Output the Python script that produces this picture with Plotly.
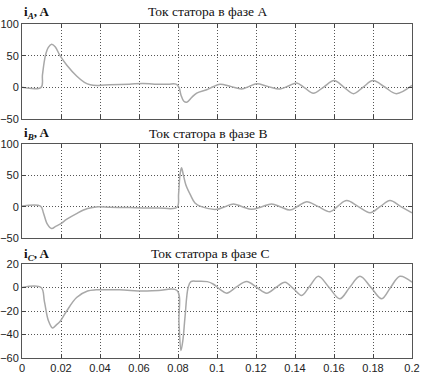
import plotly.graph_objects as go

# Phase A stator current (t, A)
t_a = [0, 0.0098, 0.0105, 0.012, 0.0135, 0.0152, 0.017, 0.0195, 0.023, 0.028, 0.032, 0.035, 0.039,
       0.045, 0.055, 0.062, 0.068, 0.075, 0.079, 0.0805, 0.0815, 0.083, 0.0845, 0.087, 0.0896, 0.0947,
       0.098, 0.1015, 0.107, 0.1127, 0.1165, 0.1203, 0.126, 0.1323, 0.1366, 0.1409, 0.145, 0.1494,
       0.1547, 0.16, 0.165, 0.170, 0.175, 0.180, 0.186, 0.192, 0.2]
i_a = [0, 0, 20, 50, 63, 68, 64, 50, 35, 18, 8, 4, 3,
       4, 5, 6, 5, 5, 5, 0, -12, -22, -23.5, -16, -9, -3.7,
       1, 5, 1.5, -2.5, 1.5, 5.5, 1.5, -2.5, 2, 7, -1, -9.3,
       0.5, 10.7, 0.5, -10, 0.5, 10.7, 0.5, -10, 3]

# Phase B stator current
t_b = [0, 0.0095, 0.011, 0.013, 0.0152, 0.0175, 0.0195, 0.023, 0.028, 0.0336, 0.039, 0.045, 0.055,
       0.062, 0.07, 0.0795, 0.0803, 0.081, 0.0818, 0.0828, 0.084, 0.0865, 0.0887, 0.092, 0.0998,
       0.104, 0.1084, 0.113, 0.1178, 0.123, 0.128, 0.1327, 0.1374, 0.1417, 0.146, 0.152, 0.158,
       0.162, 0.1665, 0.1725, 0.1785, 0.1836, 0.1887, 0.1943, 0.2]
i_b = [1, 1, -10, -28, -35, -31, -28, -20, -11, -3, 0, -1, -1.5,
       -2, -2, -1, 20, 50, 62, 50, 35, 18, 6, 0, -4.3,
       0, 4.3, 0, -4.3, 0, 4.3, -0.5, -5.4, 1, 8, 0, -8,
       1, 9.7, 0, -9.7, 0, 9.7, 0, -9.7]

# Phase C stator current
t_c = [0, 0.0098, 0.0115, 0.0135, 0.0157, 0.0175, 0.0195, 0.0229, 0.028, 0.0336, 0.038, 0.05, 0.062,
       0.07, 0.0795, 0.0805, 0.0815, 0.0825, 0.0836, 0.0852, 0.0866, 0.09, 0.095, 0.098, 0.1015,
       0.105, 0.11, 0.1152, 0.1205, 0.1255, 0.1302, 0.1349, 0.1392, 0.1434, 0.1477, 0.152, 0.1575,
       0.163, 0.168, 0.1733, 0.179, 0.1845, 0.189, 0.1938, 0.2]
i_c = [0, 0, -12, -28, -34.5, -32, -29, -20, -8.5, -3, -2, -2, -3,
       -2.5, -2.5, -30, -53.6, -45, -25, 0, 5, 5.3, 5, 3, -1.5,
       -4.8, 0.5, 5.1, 0, -4.8, 0, 4.5, -1, -6.8, 1.5, 9.6, 0,
       -9.6, 0, 9.6, 0, -9.6, 0, 9.6, 4.5]

titles = ["Ток статора в фазе A", "Ток статора в фазе B", "Ток статора в фазе C"]
ylabels = ["<b>i<sub><i>A</i></sub>, A</b>", "<b>i<sub><i>B</i></sub>, A</b>", "<b>i<sub><i>C</i></sub>, A</b>"]
x_ticks = [0, 0.02, 0.04, 0.06, 0.08, 0.1, 0.12, 0.14, 0.16, 0.18, 0.2]
x_tick_text = ["0", "0.02", "0.04", "0.06", "0.08", "0.1", "0.12", "0.14", "0.16", "0.18", "0.2"]
y_ticks_ab = [-50, 0, 50, 100]
y_ticks_c = [-60, -40, -20, 0, 20]

W, H = 424, 378
L, R = 22, 12
tops = [24, 144, 264]
bots = [119, 238, 358]
yranges = [[-50, 100], [-50, 100], [-60, 20]]
yticks = [y_ticks_ab, y_ticks_ab, y_ticks_c]
title_y = [11.5, 133, 253]
title_x = [207, 208, 210]
label_x = [22, 22, 22]

fig = go.Figure()
series = [(t_a, i_a), (t_b, i_b), (t_c, i_c)]
layout = dict(width=W, height=H, margin=dict(l=L, r=R, t=0, b=0, autoexpand=False),
              paper_bgcolor="white", plot_bgcolor="white", showlegend=False,
              font=dict(family="Liberation Sans", size=11, color="#222"))
annotations = []
grid = dict(showgrid=True, gridcolor="#555", griddash="1px,2px", gridwidth=1)
for k in range(3):
    xa = "x" if k == 0 else f"x{k+1}"
    ya = "y" if k == 0 else f"y{k+1}"
    fig.add_trace(go.Scatter(x=series[k][0], y=series[k][1], mode="lines",
                             line=dict(color="#a8a8a8", width=1.5, shape="spline", smoothing=1.0),
                             xaxis=xa, yaxis=ya, hoverinfo="skip"))
    xkey = "xaxis" if k == 0 else f"xaxis{k+1}"
    ykey = "yaxis" if k == 0 else f"yaxis{k+1}"
    layout[xkey] = dict(domain=[0, 1], range=[0, 0.2], anchor=ya, automargin=False,
                        tickvals=x_ticks, ticktext=x_tick_text, showticklabels=(k == 2),
                        ticks="inside", ticklen=4, tickcolor="#444", mirror="ticks",
                        showline=True, linecolor="#555", linewidth=1,
                        zeroline=False, tickfont=dict(size=11, color="#222"), **grid)
    layout[ykey] = dict(domain=[1 - bots[k] / H, 1 - tops[k] / H], range=yranges[k], anchor=xa,
                        automargin=False,
                        tickvals=yticks[k], ticks="inside", ticklen=4, tickcolor="#444",
                        mirror="ticks", showline=True, linecolor="#555", linewidth=1,
                        zeroline=False, tickfont=dict(size=11, color="#222"), **grid)
    annotations.append(dict(text=titles[k], xref="paper", yref="paper",
                            x=(title_x[k] - L) / (W - L - R), y=1 - title_y[k] / H,
                            xanchor="center", yanchor="middle", showarrow=False,
                            font=dict(family="Liberation Serif", size=13.5, color="#111")))
    annotations.append(dict(text=ylabels[k], xref="paper", yref="paper",
                            x=(label_x[k] - L) / (W - L - R), y=1 - (title_y[k] + 1) / H,
                            xanchor="left", yanchor="middle", showarrow=False,
                            font=dict(family="Liberation Serif", size=13, color="#111")))
layout["annotations"] = annotations
fig.update_layout(**layout)
fig.write_html("out.html", config={"displayModeBar": False},
               post_script="document.body.style.margin='0';")
